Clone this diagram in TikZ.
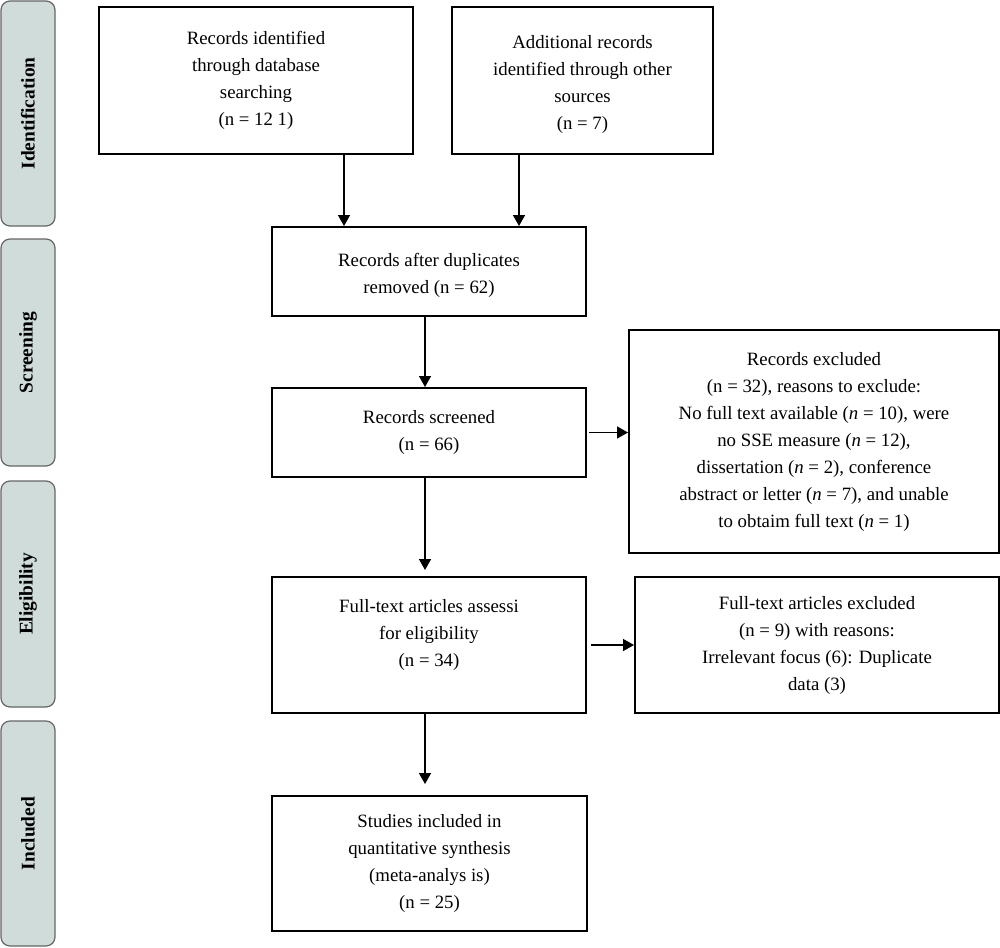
\documentclass[tikz,border=0pt]{standalone}
\usepackage{fontspec}
\setmainfont{Liberation Serif}
\usetikzlibrary{arrows.meta}
\definecolor{sidefill}{HTML}{D0DCDA}
\definecolor{sideline}{HTML}{666666}
\begin{document}
\begin{tikzpicture}[x=0.5pt,y=-0.5pt,
  box/.style 2 args={draw=black, line width=1pt, minimum width=#1*0.5pt, minimum height=#2*0.5pt, inner sep=0pt, align=center, font=\fontsize{9.4}{13.5}\selectfont},
  txt/.style={inner sep=0pt, align=center, font=\fontsize{9.4}{13.5}\selectfont},
  side/.style={draw=sideline, fill=sidefill, line width=0.6pt, rounded corners=4.5pt, rotate=90, minimum width=#1*0.5pt, minimum height=27pt, inner sep=0pt, font=\fontsize{9.7}{12}\selectfont\bfseries},
  arr/.style={-{Triangle[width=6pt,length=5.5pt]}, line width=0.75pt}]
\useasboundingbox (0,0) rectangle (1000,947);
% side labels
\node[side=225] (s1) at (28,113.5) {Identification};
\node[side=227] (s2) at (28,352.5) {Screening};
\node[side=226] (s3) at (28,594) {Eligibility};
\node[side=225] (s4) at (28,833.5) {Included};
% boxes
\node[box={314}{147}] (b1) at (256,80.5) {Records identified\\through database\\searching\\(n = 12 1)};
\node[box={261}{147}] (b2) at (582.5,80.5) {};
\node[txt] (b2t) at ([yshift=-2pt]b2.center) {Additional records\\identified through other\\sources\\(n = 7)};
\node[box={314}{89}] (b3) at (429,271.5) {};
\node[txt] (b3t) at ([yshift=-2pt]b3.center) {Records after duplicates\\removed (n = 62)};
\node[box={314}{89}] (b4) at (429,432.5) {Records screened\\(n = 66)};
\node[box={370}{223}] (b5) at (814,441.5) {Records excluded\\(n = 32), reasons to exclude:\\No full text available (\textit{n} = 10), were\\no SSE measure (\textit{n} = 12),\\dissertation (\textit{n} = 2), conference\\abstract or letter (\textit{n} = 7), and unable\\to obtaim full text (\textit{n} = 1)};
\node[box={314}{136}] (b6) at (429,645) {};
\node[txt] (b6t) at ([yshift=5pt]b6.center) {Full-text articles assessi\\for eligibility\\(n = 34)};
\node[box={364}{136}] (b7) at (817,645) {Full-text articles excluded\\(n = 9) with reasons:\\Irrelevant focus (6): Duplicate\\data (3)};
\node[box={315}{135}] (b8) at (429.5,863.5) {Studies included in\\quantitative synthesis\\(meta-analys is)\\(n = 25)};
% arrows
\draw[arr] ([xshift=44pt]b1.south) -- ([xshift=-42.5pt]b3.north);
\draw[arr] ([xshift=-31.75pt]b2.south) -- ([xshift=45pt]b3.north);
\draw[arr] ([xshift=-2pt]b3.south) -- ([xshift=-2pt]b4.north);
\draw[arr] ([xshift=1pt]b4.east) -- (b4.east -| b5.west);
\draw[arr, shorten >=3pt] ([xshift=-2pt]b4.south) -- ([xshift=-2pt]b6.north);
\draw[arr] ([xshift=2pt]b6.east) -- (b6.east -| b7.west);
\draw[arr, shorten >=5.5pt] ([xshift=-2pt]b6.south) -- ([xshift=-2.25pt]b8.north);
\end{tikzpicture}
\end{document}
